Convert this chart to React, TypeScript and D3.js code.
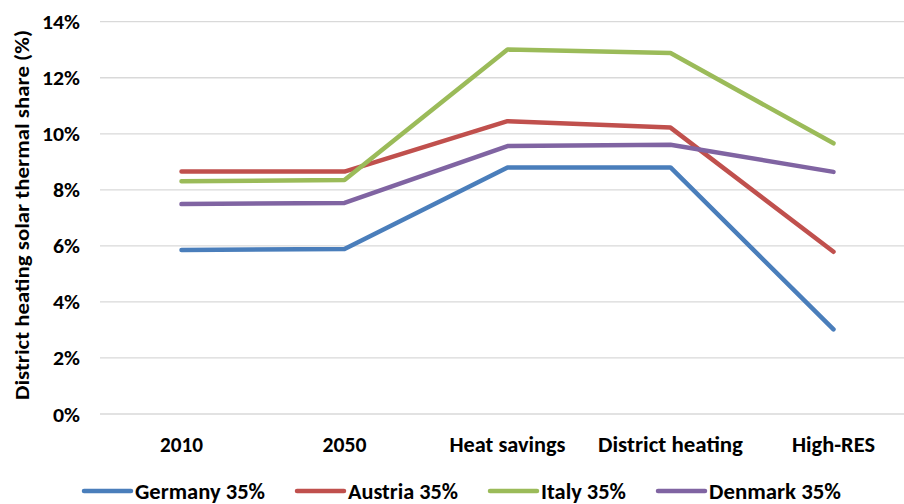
import React from "react";
import * as d3 from "d3";

const categories = ["2010", "2050", "Heat savings", "District heating", "High-RES"];
const seriesNames = ["Germany 35%", "Austria 35%", "Italy 35%", "Denmark 35%"];
const germany = [5.85, 5.89, 8.8, 8.8, 3.02];
const austria = [8.65, 8.65, 10.45, 10.22, 5.79];
const italy = [8.31, 8.35, 13.01, 12.88, 9.66];
const denmark = [7.49, 7.53, 9.56, 9.61, 8.64];
const yTicks = [0, 2, 4, 6, 8, 10, 12, 14];

const colors = ["#4A7EBB", "#C0504D", "#9BBB59", "#8064A2"];
const FONT = "Carlito, Calibri, 'Liberation Sans', Arial, sans-serif";

// approximate rendered widths of Calibri-style labels (layout only)
const catWidths: Record<string, number> = {
  "2010": 43, "2050": 44, "Heat savings": 116, "District heating": 145, "High-RES": 83,
};
const legendWidths = [130, 110, 85, 132];
const tickWidth = (s: string) => (s.length === 3 ? 38 : 27);

export default function App() {
  const W = 904, H = 504;
  const x = d3.scaleBand<string>().domain(categories).range([100, 915]);
  const y = d3.scaleLinear().domain([0, 14]).range([414, 21.7]);
  const all = [germany, austria, italy, denmark];
  const line = d3
    .line<number>()
    .x((_, i) => (x(categories[i]) as number) + x.bandwidth() / 2)
    .y((d) => y(d));

  // legend layout
  const legendItems: { lx: number; tx: number; w: number }[] = [];
  let cx = 84;
  legendWidths.forEach((w) => {
    legendItems.push({ lx: cx, tx: cx + 51, w });
    cx = cx + 51 + w + 32;
  });

  return (
    <svg
      width={W}
      height={H}
      style={{ position: "absolute", left: 0, top: 0, background: "#fff" }}
    >
      <rect x={0} y={0} width={W} height={H} fill="#fff" />
      {yTicks.map((t) => (
        <line
          key={t}
          x1={100}
          x2={915}
          y1={y(t)}
          y2={y(t)}
          stroke="#D9D9D9"
          strokeWidth={1.3}
        />
      ))}
      {yTicks.map((t) => {
        const s = `${t}%`;
        return (
          <text
            key={"l" + t}
            x={80}
            y={y(t) + 7.5}
            textAnchor="end"
            fontFamily={FONT}
            fontWeight="bold"
            fontSize={21}
            fill="#000"
            textLength={tickWidth(s)}
            lengthAdjust="spacingAndGlyphs"
          >
            {s}
          </text>
        );
      })}
      <text
        transform="translate(29,215) rotate(-90)"
        textAnchor="middle"
        fontFamily={FONT}
        fontWeight="bold"
        fontSize={21}
        fill="#000"
        textLength={370}
        lengthAdjust="spacingAndGlyphs"
      >
        District heating solar thermal share (%)
      </text>
      {categories.map((c) => (
        <text
          key={c}
          x={(x(c) as number) + x.bandwidth() / 2}
          y={452}
          textAnchor="middle"
          fontFamily={FONT}
          fontWeight="bold"
          fontSize={22}
          fill="#000"
          textLength={catWidths[c]}
          lengthAdjust="spacingAndGlyphs"
        >
          {c}
        </text>
      ))}
      {all.map((s, i) => (
        <path
          key={seriesNames[i]}
          d={line(s) as string}
          fill="none"
          stroke={colors[i]}
          strokeWidth={4.5}
          strokeLinecap="round"
          strokeLinejoin="round"
        />
      ))}
      {seriesNames.map((n, i) => (
        <g key={"lg" + n}>
          <line
            x1={legendItems[i].lx}
            x2={legendItems[i].lx + 47}
            y1={491}
            y2={491}
            stroke={colors[i]}
            strokeWidth={4.5}
            strokeLinecap="round"
          />
          <text
            x={legendItems[i].tx}
            y={499}
            fontFamily={FONT}
            fontWeight="bold"
            fontSize={22}
            fill="#000"
            textLength={legendItems[i].w}
            lengthAdjust="spacingAndGlyphs"
          >
            {n}
          </text>
        </g>
      ))}
    </svg>
  );
}
